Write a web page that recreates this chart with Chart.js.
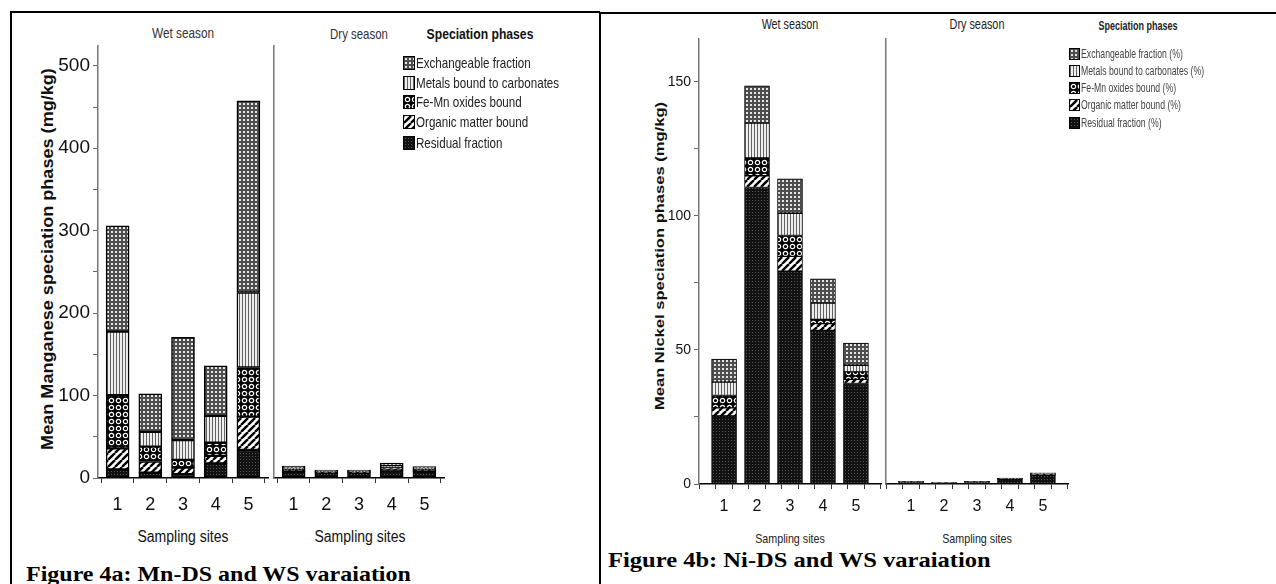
<!DOCTYPE html>
<html>
<head>
<meta charset="utf-8">
<script src="https://cdn.jsdelivr.net/npm/chart.js@4.4.1/dist/chart.umd.min.js"></script>
<style>
  body { margin:0; background:#fff; width:1276px; height:584px; overflow:hidden; position:relative;
         font-family:"Liberation Sans",Arial,sans-serif; }
  .t { position:absolute; white-space:nowrap; line-height:1; }
  .c { transform:translate(-50%,-50%); }
  .ytitle { position:absolute; white-space:nowrap; line-height:1; transform:translate(-50%,-50%) rotate(-90deg);
            font-weight:bold; color:#111; }
  .cap { position:absolute; white-space:nowrap; line-height:1; font-family:"Liberation Serif","Times New Roman",serif;
         font-weight:bold; color:#000; transform-origin:left center; }
  .rule { position:absolute; background:#000; }
  .chart { position:absolute; }
  .leg { position:absolute; display:flex; align-items:center; white-space:nowrap; line-height:1; }
  .leg canvas { border:1px solid #000; margin-right:1px; flex:none; }
  .leg span { display:inline-block; transform-origin:left center; }
</style>
</head>
<body>

<!-- frame of the two figure cells -->
<div class="rule" style="left:10px;top:11px;width:590px;height:2px;"></div>
<div class="rule" style="left:10px;top:11px;width:2px;height:573px;"></div>
<div class="rule" style="left:599px;top:12px;width:2px;height:572px;"></div>
<div class="rule" style="left:600px;top:12px;width:676px;height:2px;"></div>

<!-- Figure 4a texts -->
<div class="t c" data-w="62" style="left:183px;top:32px;font-size:15px;color:#333;">Wet season</div>
<div class="t c" data-w="58" style="left:359px;top:33px;font-size:15px;color:#333;">Dry season</div>
<div class="t c" data-w="107" style="left:480px;top:33px;font-size:15px;font-weight:bold;color:#111;">Speciation phases</div>
<div class="ytitle" data-w="382" style="left:48px;top:259px;font-size:16px;">Mean Manganese speciation phases (mg/kg)</div>
<div class="t c" data-w="91" style="left:183px;top:537px;font-size:16px;color:#111;">Sampling sites</div>
<div class="t c" data-w="91" style="left:360px;top:537px;font-size:16px;color:#111;">Sampling sites</div>
<div class="cap" data-w="385" style="left:26px;top:564px;font-size:21px;">Figure 4a: Mn-DS and WS varaiation</div>

<!-- Figure 4b texts -->
<div class="t c" data-w="57" style="left:790px;top:24px;font-size:14px;color:#222;">Wet season</div>
<div class="t c" data-w="55" style="left:977px;top:24px;font-size:14px;color:#222;">Dry season</div>
<div class="t c" data-w="79" style="left:1138px;top:25px;font-size:13px;font-weight:bold;color:#222;">Speciation phases</div>
<div class="ytitle" data-w="308" style="left:659px;top:256px;font-size:13px;">Mean Nickel speciation phases (mg/kg)</div>
<div class="t c" data-w="70" style="left:790px;top:538px;font-size:13px;color:#222;">Sampling sites</div>
<div class="t c" data-w="70" style="left:977px;top:538px;font-size:13px;color:#222;">Sampling sites</div>
<div class="cap" data-w="383" style="left:608px;top:550px;font-size:21px;">Figure 4b: Ni-DS and WS varaiation</div>

<canvas id="mnWet" class="chart"></canvas>
<canvas id="mnDry" class="chart"></canvas>
<canvas id="niWet" class="chart"></canvas>
<canvas id="niDry" class="chart"></canvas>
<div id="legends"></div>

<script>
// ═══ DATA ═══
const sites = ['1', '2', '3', '4', '5'];
const phases = ['Exchangeable fraction', 'Metals bound to carbonates', 'Fe-Mn oxides bound', 'Organic matter bound', 'Residual fraction'];
const phasesPct = phases.map(p => p + ' (%)');

// Manganese, wet season (mg/kg)
const mnWetResidual     = [10.5, 6.5, 4.5, 17.8, 34];
const mnWetOrganic      = [25.5, 13.5, 8, 9, 40.5];
const mnWetFeMn         = [64.5, 18, 9.5, 16, 59.5];
const mnWetCarbonates   = [77, 18, 24, 32.6, 91];
const mnWetExchangeable = [128.5, 46, 124.7, 60.6, 232.5];
// Manganese, dry season
const mnDryResidual     = [8, 6.5, 6.5, 9, 8];
const mnDryOrganic      = [1, 0.5, 0.5, 1.5, 1];
const mnDryFeMn         = [1.5, 0.8, 0.8, 2, 1.5];
const mnDryCarbonates   = [1.5, 0.7, 0.7, 2, 1.5];
const mnDryExchangeable = [2.5, 1, 1, 3.5, 2];

// Nickel, wet season (mg/kg)
const niWetResidual     = [25.4, 110.6, 79.4, 57.3, 37.5];
const niWetOrganic      = [3, 4.4, 5.5, 2.5, 1.5];
const niWetFeMn         = [4.6, 6.6, 7.8, 1.6, 2.8];
const niWetCarbonates   = [5, 13, 8.3, 6.1, 2.5];
const niWetExchangeable = [8.6, 13.9, 12.8, 9, 8.3];
// Nickel, dry season
const niDryResidual     = [0.8, 0.4, 0.8, 1.8, 3.3];
const niDryOrganic      = [0.05, 0.02, 0.05, 0.1, 0.2];
const niDryFeMn         = [0.05, 0.03, 0.05, 0.1, 0.2];
const niDryCarbonates   = [0.05, 0.02, 0.05, 0.1, 0.2];
const niDryExchangeable = [0.05, 0.03, 0.05, 0.1, 0.3];

// y tick labels
const mnTickLabels = [0, 100, 200, 300, 400, 500];
const niTickLabels = [0, 50, 100, 150];

// ═══ HATCH PATTERNS ═══
function tile(w, h, draw) {
    const c = document.createElement('canvas'); c.width = w; c.height = h;
    draw(c.getContext('2d'), w, h);
    return c;
}
const tiles = {
    exchangeable: tile(4, 4, g => { g.fillStyle = '#4e4e4e'; g.fillRect(0, 0, 4, 4); g.fillStyle = '#e6e6e6'; g.fillRect(1, 1, 2, 2); }),
    carbonates: tile(3, 3, g => { g.fillStyle = '#eeeeee'; g.fillRect(0, 0, 3, 3); g.fillStyle = '#626262'; g.fillRect(0, 0, 1, 3); }),
    feMn: tile(7, 7, g => { g.fillStyle = '#000'; g.fillRect(0, 0, 7, 7); g.strokeStyle = '#fff'; g.lineWidth = 1.2; g.beginPath(); g.arc(3.5, 3.5, 2.2, 0, Math.PI * 2); g.stroke(); }),
    organic: tile(7, 7, g => {
        g.fillStyle = '#fff'; g.fillRect(0, 0, 7, 7); g.strokeStyle = '#000'; g.lineWidth = 2.4;
        [-7, 0, 7].forEach(dx => { g.beginPath(); g.moveTo(dx, 7); g.lineTo(dx + 7, 0); g.stroke(); });
    }),
    residual: tile(3, 3, g => { g.fillStyle = '#121212'; g.fillRect(0, 0, 3, 3); g.fillStyle = '#585858'; g.fillRect(1, 1, 1, 1); })
};
const scratch = document.createElement('canvas').getContext('2d');
const pat = k => scratch.createPattern(tiles[k], 'repeat');
const legendKeys = ['exchangeable', 'carbonates', 'feMn', 'organic', 'residual'];

// ═══ CHART BUILDER ═══
const SANS = '"Liberation Sans", Arial, sans-serif';
const PAD_TOP = 20, PAD_RIGHT = 10, XH = 40;

function stackChart(id, area, o) {
    // area = chart area in page pixels; canvas is placed around it
    const cv = document.getElementById(id);
    const left = area.l - o.yw, top = area.t - PAD_TOP;
    const w = area.r + PAD_RIGHT - left, h = area.b + XH - top;
    cv.style.left = left + 'px'; cv.style.top = top + 'px';
    cv.width = w; cv.height = h;
    const series = [
        ['Residual fraction', o.res, 'residual'],
        ['Organic matter bound', o.org, 'organic'],
        ['Fe-Mn oxides bound', o.fe, 'feMn'],
        ['Metals bound to carbonates', o.carb, 'carbonates'],
        ['Exchangeable fraction', o.exch, 'exchangeable']
    ];
    return new Chart(cv, {
        type: 'bar',
        data: {
            datasets: series.map(([label, vals, key]) => ({
                label, data: vals.map((v, i) => ({ x: i + 1, y: v })),
                backgroundColor: pat(key), borderColor: '#000', borderWidth: o.bw,
                borderSkipped: false, barThickness: o.barW
            }))
        },
        options: {
            responsive: false, animation: false, devicePixelRatio: 1,
            layout: { padding: { top: PAD_TOP, right: PAD_RIGHT, left: 0, bottom: 0 } },
            plugins: { legend: { display: false }, tooltip: { enabled: false } },
            scales: {
                x: {
                    type: 'linear', stacked: true, min: o.xmin, max: o.xmax, offset: false,
                    ticks: {
                        stepSize: o.xstep, autoSkip: false, maxRotation: 0, includeBounds: false,
                        padding: o.xpad, color: '#111', font: { family: SANS, size: o.xfont },
                        callback: v => Math.abs(v - Math.round(v)) < 1e-6 ? (sites[Math.round(v) - 1] || '') : ''
                    },
                    grid: { drawOnChartArea: false, drawTicks: true, tickLength: 5, color: '#333', lineWidth: 1 },
                    border: { color: '#000', width: 1.5 },
                    afterFit: s => { s.height = XH; }
                },
                y: {
                    stacked: true, min: 0, max: o.ymax,
                    ticks: {
                        display: o.yw > 2, stepSize: o.ystep, includeBounds: false, padding: 3,
                        color: '#111', font: { family: SANS, size: o.yfont },
                        callback: v => o.ylabels.includes(v) ? String(v) : ''
                    },
                    grid: { drawOnChartArea: false, drawTicks: o.yw > 2, tickLength: 5, color: '#666' },
                    border: { color: '#777', width: 1.5 },
                    afterFit: s => { s.width = o.yw; }
                }
            }
        }
    });
}

const mnCommon = { xmin: 0.4, xmax: 5.6, xstep: 1, ymax: 524, ystep: 50, ylabels: mnTickLabels,
                   barW: 23, bw: 1.5, xfont: 18, yfont: 19, xpad: 11 };
const niCommon = { xmin: 0.24, xmax: 5.76, xstep: 0.5, ymax: 166, ystep: 25, ylabels: niTickLabels,
                   barW: 25, bw: 1, xfont: 16, yfont: 14, xpad: 8 };

stackChart('mnWet', { l: 98, r: 268, t: 46, b: 478 }, Object.assign({}, mnCommon, { yw: 60,
    res: mnWetResidual, org: mnWetOrganic, fe: mnWetFeMn, carb: mnWetCarbonates, exch: mnWetExchangeable }));
stackChart('mnDry', { l: 274, r: 444, t: 46, b: 478 }, Object.assign({}, mnCommon, { yw: 2,
    res: mnDryResidual, org: mnDryOrganic, fe: mnDryFeMn, carb: mnDryCarbonates, exch: mnDryExchangeable }));
stackChart('niWet', { l: 699, r: 881, t: 39, b: 484 }, Object.assign({}, niCommon, { yw: 50,
    res: niWetResidual, org: niWetOrganic, fe: niWetFeMn, carb: niWetCarbonates, exch: niWetExchangeable }));
stackChart('niDry', { l: 886, r: 1068, t: 39, b: 484 }, Object.assign({}, niCommon, { yw: 2,
    res: niDryResidual, org: niDryOrganic, fe: niDryFeMn, carb: niDryCarbonates, exch: niDryExchangeable }));

// ═══ LEGENDS ═══
function legend(x, yCenters, labels, size, color, sw, sh, longest) {
    const box = document.getElementById('legends');
    const spans = labels.map((lab, i) => {
        const row = document.createElement('div');
        row.className = 'leg';
        row.style.cssText = `left:${x}px;top:${yCenters[i] - sh / 2 - 1}px;font-size:${size}px;color:${color};`;
        const sc = document.createElement('canvas'); sc.width = sw; sc.height = sh;
        const g = sc.getContext('2d'); g.fillStyle = g.createPattern(tiles[legendKeys[i]], 'repeat'); g.fillRect(0, 0, sw, sh);
        const sp = document.createElement('span'); sp.textContent = lab;
        row.appendChild(sc); row.appendChild(sp);
        box.appendChild(row);
        return sp;
    });
    // condensed look: squeeze all labels by the factor that fits the longest one
    const k = longest / spans[1].offsetWidth;
    spans.forEach(sp => { sp.style.transform = `scaleX(${k.toFixed(3)})`; });
}
legend(403, [62, 82, 101, 121, 142], phases, 15, '#222', 10, 12, 143);
legend(1069, [53, 70, 87, 104, 122], phasesPct, 13, '#444', 9, 10, 123);

// ═══ NARROW TEXT (no condensed font installed) ═══
document.querySelectorAll('[data-w]').forEach(el => {
    const k = (+el.dataset.w / el.offsetWidth).toFixed(3);
    if (el.classList.contains('ytitle')) el.style.transform = `translate(-50%,-50%) rotate(-90deg) scaleX(${k})`;
    else if (el.classList.contains('c')) el.style.transform = `translate(-50%,-50%) scaleX(${k})`;
    else el.style.transform = `scaleX(${k})`;
});
</script>
</body>
</html>
